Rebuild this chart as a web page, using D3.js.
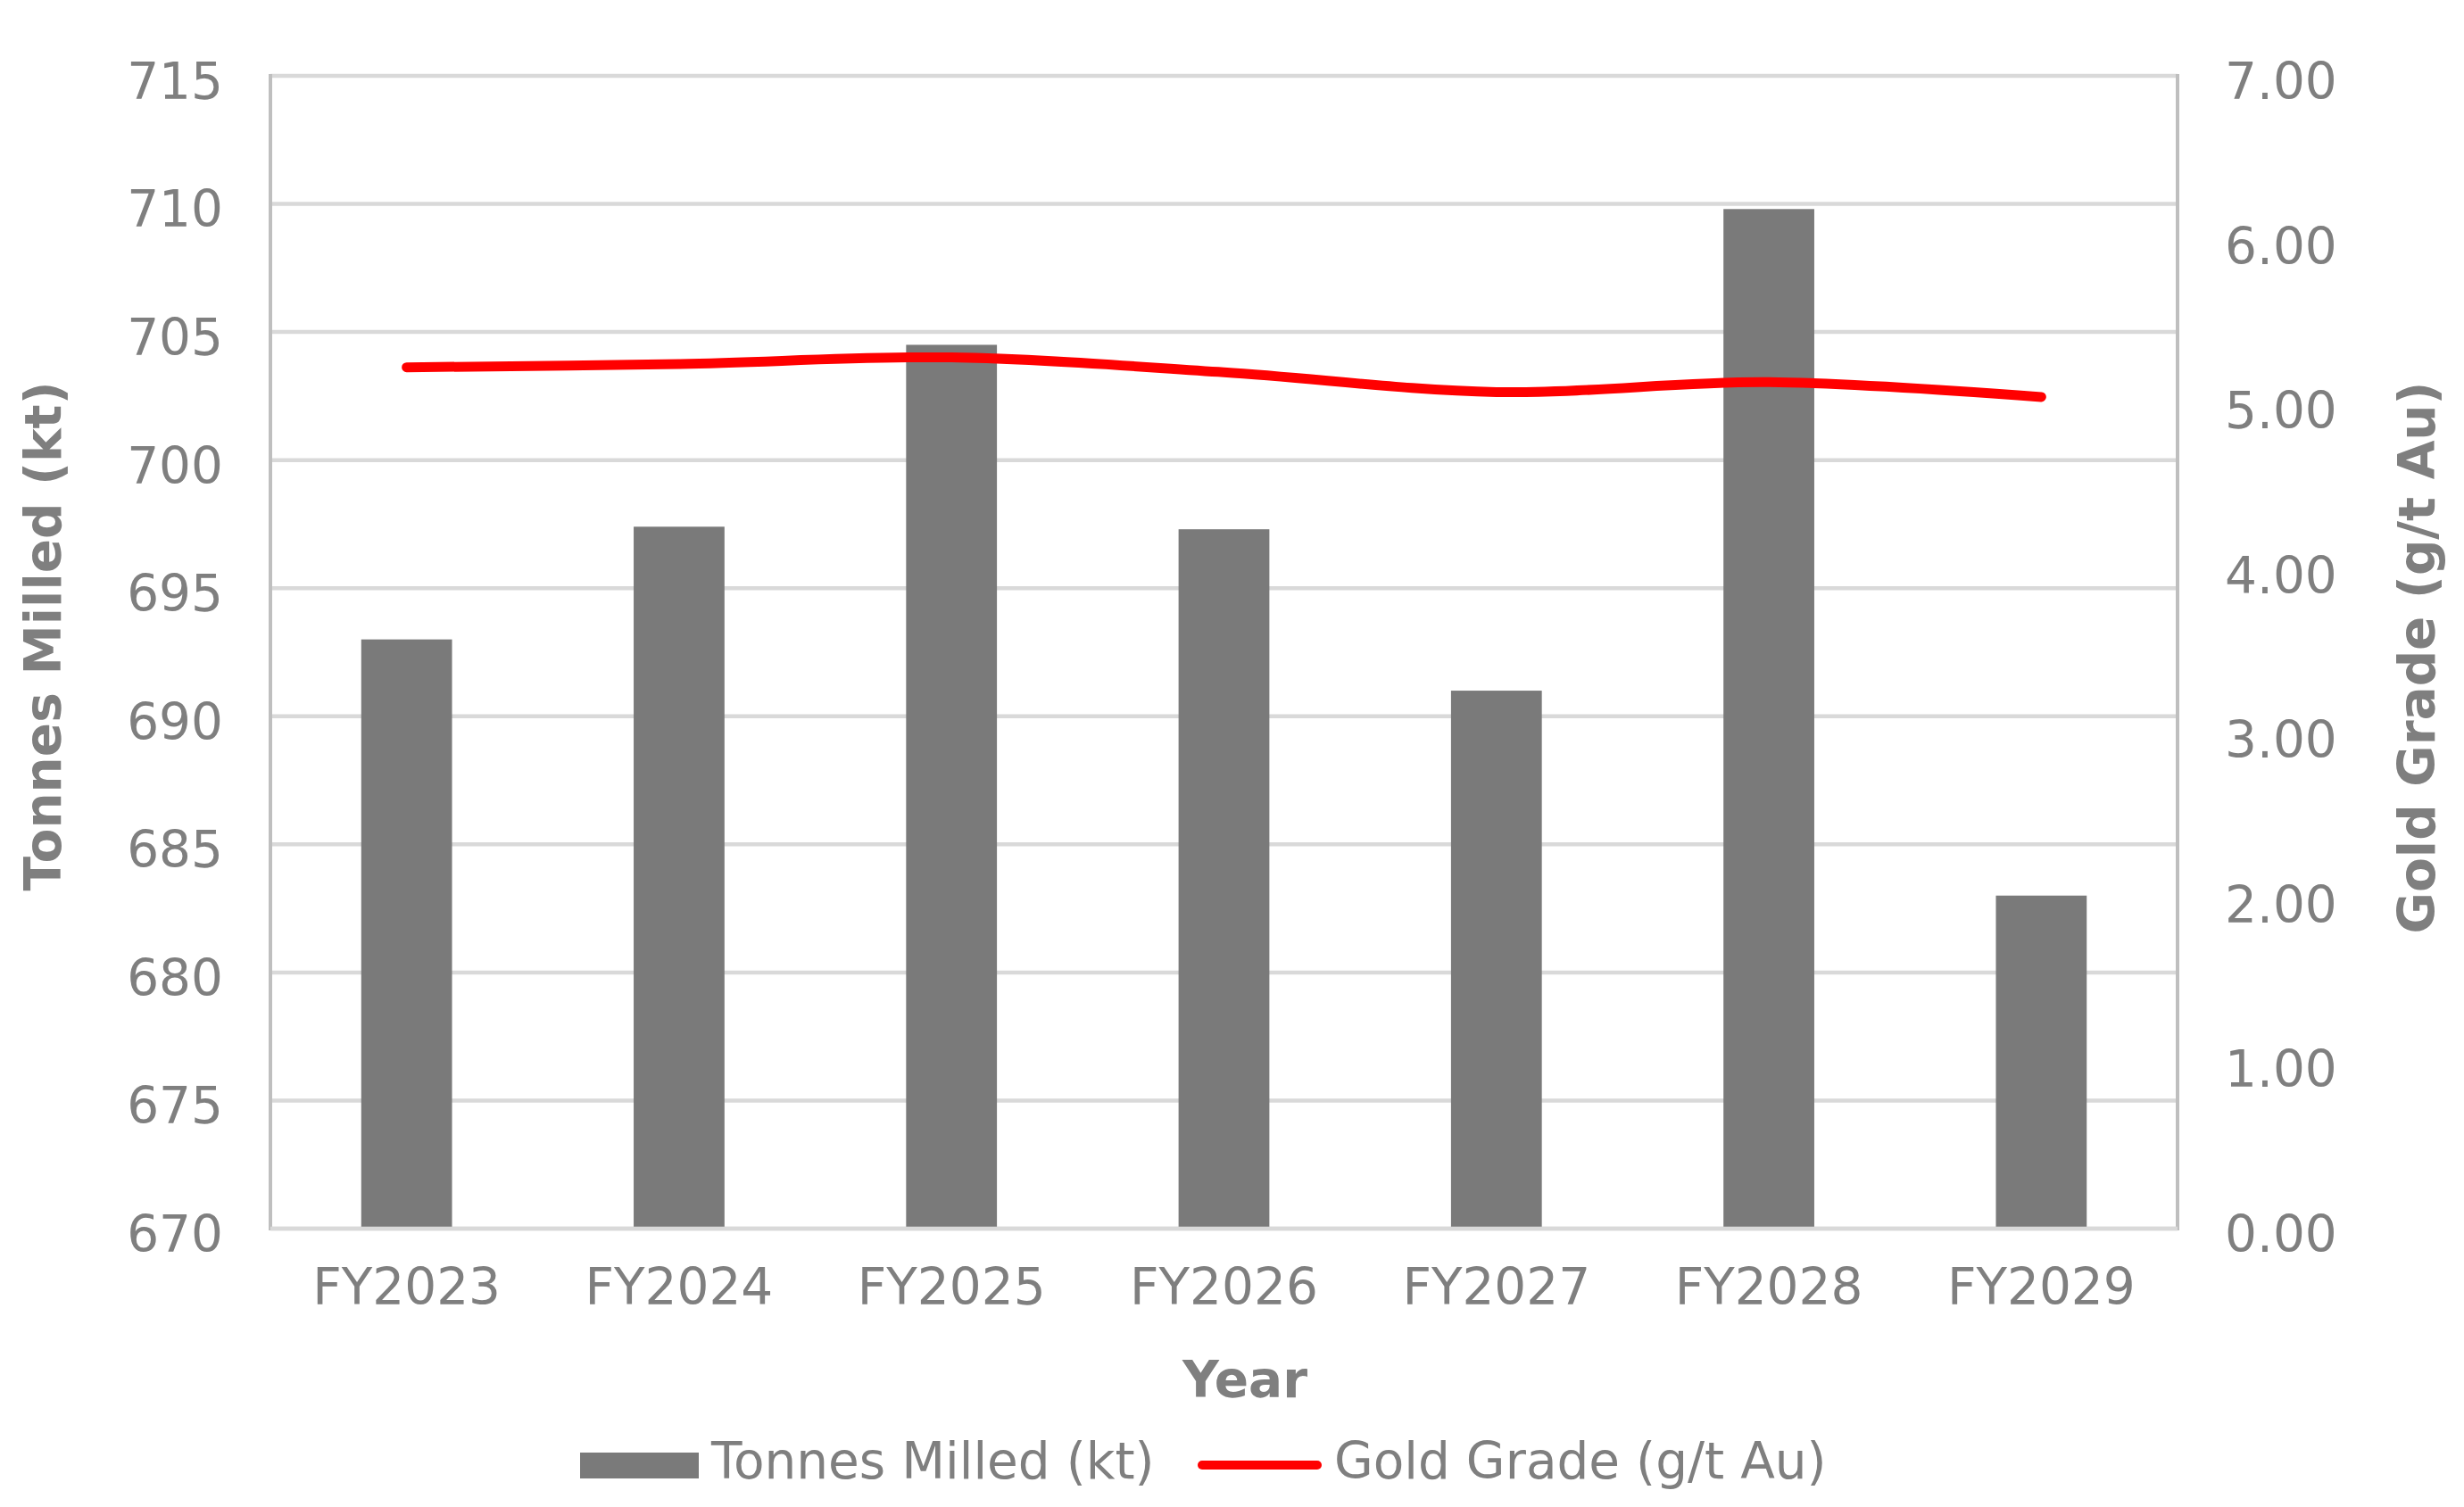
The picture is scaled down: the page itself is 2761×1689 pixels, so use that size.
<!DOCTYPE html>
<html>
<head>
<meta charset="utf-8">
<script src="https://cdn.jsdelivr.net/npm/d3@7"></script>
<style>
html,body{margin:0;padding:0;background:#fff;}
svg{display:block;}
text{font-family:"DejaVu Sans",Verdana,sans-serif;}
</style>
</head>
<body>
<svg id="chart" width="2761" height="1689"></svg>
<script>
const categories = ["FY2023","FY2024","FY2025","FY2026","FY2027","FY2028","FY2029"];
const tonnesMilled = [693.0, 697.4, 704.5, 697.3, 691.0, 709.8, 683.0];
const goldGrade = [5.23, 5.25, 5.29, 5.20, 5.08, 5.14, 5.05];
const leftTicks = [670, 675, 680, 685, 690, 695, 700, 705, 710, 715];
const rightTicks = [0, 1, 2, 3, 4, 5, 6, 7];
const seriesNames = ["Tonnes Milled (kt)", "Gold Grade (g/t Au)"];
const titles = {x: "Year", yLeft: "Tonnes Milled (kt)", yRight: "Gold Grade (g/t Au)"};

const W = 2761, H = 1689;
const m = {left: 303, right: 2440, top: 85, bottom: 1377};
const textColor = "#7f7f7f", barColor = "#7a7a7a", gridColor = "#d9d9d9", axisColor = "#bfbfbf", lineColor = "#ff0000";
const fs = 56.5;

const svg = d3.select("#chart");
svg.append("rect").attr("width", W).attr("height", H).attr("fill", "#fff");

const x = d3.scaleBand().domain(categories).range([m.left, m.right]).paddingInner(2/3).paddingOuter(1/3);
const yL = d3.scaleLinear().domain([670, 715]).range([m.bottom, m.top]);
const yR = d3.scaleLinear().domain([0, 7]).range([m.bottom, m.top]);

// gridlines
svg.append("g").selectAll("line").data(leftTicks).join("line")
  .attr("x1", m.left).attr("x2", m.right)
  .attr("y1", d => yL(d)).attr("y2", d => yL(d))
  .attr("stroke", gridColor).attr("stroke-width", 4.5);

// bars
svg.append("g").selectAll("rect").data(categories).join("rect")
  .attr("x", d => x(d)).attr("width", x.bandwidth())
  .attr("y", (d, i) => yL(tonnesMilled[i]))
  .attr("height", (d, i) => yL(670) - yL(tonnesMilled[i]) - 2)
  .attr("fill", barColor);

// vertical axis lines
svg.append("line").attr("x1", m.left).attr("x2", m.left).attr("y1", m.top - 2).attr("y2", m.bottom + 2)
  .attr("stroke", axisColor).attr("stroke-width", 4);
svg.append("line").attr("x1", m.right).attr("x2", m.right).attr("y1", m.top - 2).attr("y2", m.bottom + 2)
  .attr("stroke", axisColor).attr("stroke-width", 4);
// bottom axis line
svg.append("line").attr("x1", m.left).attr("x2", m.right).attr("y1", m.bottom).attr("y2", m.bottom)
  .attr("stroke", gridColor).attr("stroke-width", 4.5);

// line
const line = d3.line()
  .x((d, i) => x(categories[i]) + x.bandwidth() / 2)
  .y(d => yR(d))
  .curve(d3.curveCardinal.tension(0));
svg.append("path").datum(goldGrade).attr("d", line)
  .attr("fill", "none").attr("stroke", lineColor).attr("stroke-width", 11)
  .attr("stroke-linecap", "round").attr("stroke-linejoin", "round");

// left axis labels
const axL = d3.axisLeft(yL).tickValues(leftTicks).tickSize(0).tickPadding(53).tickFormat(d3.format("d"));
const gL = svg.append("g").attr("transform", `translate(${m.left},0)`).call(axL);
gL.select(".domain").remove();
gL.selectAll("text").attr("fill", textColor).style("font-size", fs + "px").attr("dy", "0.45em")
  .style("font-family", '"DejaVu Sans", sans-serif');

// right axis labels
const axR = d3.axisRight(yR).tickValues(rightTicks).tickSize(0).tickPadding(53).tickFormat(d3.format(".2f"));
const gR = svg.append("g").attr("transform", `translate(${m.right},0)`).call(axR);
gR.select(".domain").remove();
gR.selectAll("text").attr("fill", textColor).style("font-size", fs + "px").attr("dy", "0.45em")
  .style("font-family", '"DejaVu Sans", sans-serif');

// x axis labels
const axB = d3.axisBottom(x).tickSize(0).tickPadding(0);
const gB = svg.append("g").attr("transform", `translate(0,${m.bottom})`).call(axB);
gB.select(".domain").remove();
gB.selectAll("text").attr("fill", textColor).style("font-size", fs + "px")
  .attr("y", 85).attr("dy", 0)
  .style("font-family", '"DejaVu Sans", sans-serif');

// titles
svg.append("text").attr("x", 1395).attr("y", 1566).attr("text-anchor", "middle")
  .attr("fill", textColor).style("font-size", fs + "px").style("font-weight", "bold").text(titles.x);
svg.append("text").attr("transform", "translate(68,713) rotate(-90)").attr("text-anchor", "middle")
  .attr("fill", textColor).style("font-size", fs + "px").style("font-weight", "bold").text(titles.yLeft);
svg.append("text").attr("transform", "translate(2728,737) rotate(-90)").attr("text-anchor", "middle")
  .attr("fill", textColor).style("font-size", fs + "px").style("font-weight", "bold").text(titles.yRight);

// legend
const lg = svg.append("g");
lg.append("rect").attr("x", 650).attr("y", 1628).attr("width", 133).attr("height", 29).attr("fill", barColor);
lg.append("text").attr("x", 797).attr("y", 1657).attr("fill", textColor).style("font-size", fs + "px").text(seriesNames[0]);
lg.append("line").attr("x1", 1347).attr("x2", 1476).attr("y1", 1642).attr("y2", 1642)
  .attr("stroke", lineColor).attr("stroke-width", 10).attr("stroke-linecap", "round");
lg.append("text").attr("x", 1495).attr("y", 1657).attr("fill", textColor).style("font-size", fs + "px").text(seriesNames[1]);
</script>
</body>
</html>
